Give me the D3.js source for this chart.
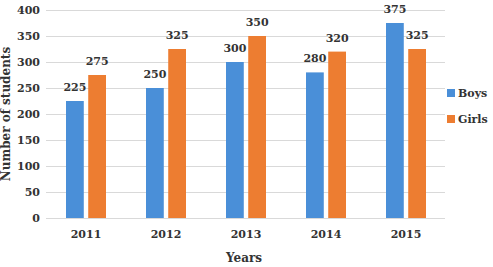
<!DOCTYPE html>
<html><head><meta charset="utf-8">
<script src="https://cdn.jsdelivr.net/npm/d3@7"></script>
<style>body{margin:0;background:#fff}svg{display:block}</style>
</head><body>
<svg id="c" width="493" height="267"></svg>
<script>
const years = ["2011","2012","2013","2014","2015"];
const boys = [225,250,300,280,375];
const girls = [275,325,350,320,325];
const seriesNames = ["Boys","Girls"];
const colors = ["#4a8fd8","#ed7d31"];
const yTicks = [0,50,100,150,200,250,300,350,400];

const svg = d3.select("#c");
const font = "DejaVu Serif, Liberation Serif, serif";
const m = {left:46, right:448, top:10, bottom:218};
const x0 = d3.scaleBand().domain(years).range([m.left, 446]).paddingInner(0.5).paddingOuter(0.25);
const x1 = d3.scaleBand().domain(seriesNames).range([0, x0.bandwidth()]).paddingInner(0.2);
const y = d3.scaleLinear().domain([0,400]).range([m.bottom, m.top]);

// gridlines
svg.append("g").selectAll("line").data(yTicks).join("line")
  .attr("x1", m.left).attr("x2", 445)
  .attr("y1", d=>y(d)+0.5).attr("y2", d=>y(d)+0.5)
  .attr("stroke", "#d9d9d9").attr("stroke-width", 1);

// y axis labels
const yAxis = svg.append("g").attr("transform", `translate(${m.left-6},0)`)
  .call(d3.axisLeft(y).tickValues(yTicks).tickSize(0).tickPadding(0));
yAxis.select(".domain").remove();
yAxis.selectAll("text").attr("font-family", font).attr("font-weight","bold").attr("font-size", 11).attr("fill","#333");

// x axis labels
const xAxis = svg.append("g").attr("transform", `translate(0,${m.bottom})`)
  .call(d3.axisBottom(x0).tickSize(0).tickPadding(12));
xAxis.select(".domain").remove();
xAxis.selectAll("text").attr("font-family", font).attr("font-weight","bold").attr("font-size", 11).attr("fill","#333");

const data = years.map((yr,i)=>({year:yr, vals:[{s:"Boys",v:boys[i]},{s:"Girls",v:girls[i]}]}));
const g = svg.append("g").selectAll("g").data(data).join("g")
  .attr("transform", d=>`translate(${x0(d.year)},0)`);
g.selectAll("rect").data(d=>d.vals).join("rect")
  .attr("x", d=>x1(d.s)).attr("width", x1.bandwidth())
  .attr("y", d=>y(d.v)).attr("height", d=>y(0)-y(d.v))
  .attr("fill", (d,i)=>colors[i]);
g.selectAll("text").data(d=>d.vals).join("text")
  .attr("x", d=>x1(d.s)+x1.bandwidth()/2).attr("y", d=>y(d.v)-10)
  .attr("text-anchor","middle")
  .attr("font-family", font).attr("font-weight","bold").attr("font-size", 11).attr("fill","#333")
  .text(d=>d.v);

// axis titles
svg.append("text").attr("x", 244).attr("y", 262).attr("text-anchor","middle")
  .attr("font-family", font).attr("font-weight","bold").attr("font-size", 12).attr("fill","#333").text("Years");
svg.append("text").attr("transform","translate(10,114) rotate(-90)").attr("text-anchor","middle")
  .attr("font-family", font).attr("font-weight","bold").attr("font-size", 12).attr("fill","#333").text("Number of students");

// legend
const lg = svg.append("g").selectAll("g").data(seriesNames).join("g")
  .attr("transform", (d,i)=>`translate(447,${89+i*26})`);
lg.append("rect").attr("width",8).attr("height",8).attr("fill",(d,i)=>colors[i]);
lg.append("text").attr("x",11).attr("y",8).attr("font-family", font).attr("font-weight","bold")
  .attr("font-size", 11).attr("fill","#333").text(d=>d);
</script>
</body></html>
